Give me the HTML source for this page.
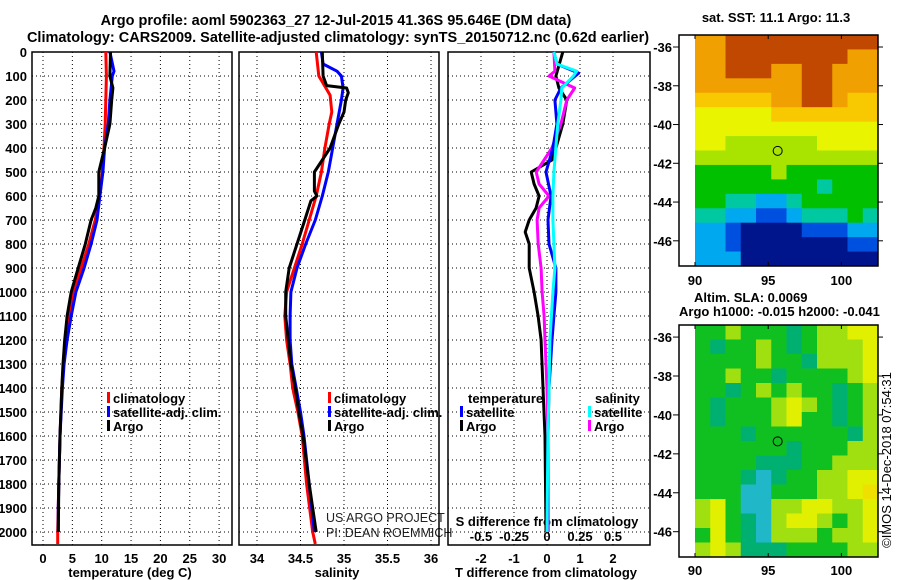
<!DOCTYPE html>
<html><head><meta charset="utf-8"><style>
body{margin:0;background:#fff;width:900px;height:580px;overflow:hidden}
svg{display:block;font-family:"Liberation Sans",sans-serif}
.b{font-weight:bold;font-size:13px}
</style></head><body>
<svg id="c" width="900" height="580" xmlns="http://www.w3.org/2000/svg">
<text x="336" y="25" text-anchor="middle" font-size="14.5" font-weight="bold">Argo profile: aoml 5902363_27 12-Jul-2015 41.36S 95.646E (DM data)</text>
<text x="338" y="42" text-anchor="middle" font-size="14.5" font-weight="bold">Climatology: CARS2009. Satellite-adjusted climatology: synTS_20150712.nc (0.62d earlier)</text>
<text x="776" y="22" text-anchor="middle" font-size="13" font-weight="bold">sat. SST: 11.1 Argo: 11.3</text>
<text x="694" y="302" font-size="13" font-weight="bold">Altim. SLA: 0.0069</text>
<text x="679" y="316" font-size="13" font-weight="bold">Argo h1000: -0.015 h2000: -0.041</text>
<text transform="translate(891,460) rotate(-90)" text-anchor="middle" font-size="13">©IMOS 14-Dec-2018 07:54:31</text>
<text x="326" y="522" font-size="12.5" fill="#222">US ARGO PROJECT</text>
<text x="326" y="537" font-size="12.5" fill="#222">PI: DEAN ROEMMICH</text>
</svg>
<script>
// ---- data ----
const depthTicks=[0,100,200,300,400,500,600,700,800,900,1000,1100,1200,1300,1400,1500,1600,1700,1800,1900,2000];
const tempTicks=[0,5,10,15,20,25,30];
const salTicks=[34,34.5,35,35.5,36];
const tdTicks=[-2,-1,0,1,2];
const sdTicks=[-0.5,-0.25,0,0.25,0.5];
const sdTickLabels=["-0.5","-0.25","0","0.25","0.5"];

const tClimDepth=[0,100,200,300,400,500,600,700,800,900,1000,1100,1200,1300,1400,1600,1800,2000,2050];
const tClim=[10.7,10.8,10.7,10.6,10.4,10.1,9.7,8.9,7.8,6.5,5.1,4.4,3.9,3.5,3.2,2.9,2.7,2.5,2.5];
const tSatDepth=[0,80,100,200,300,400,500,600,700,800,900,1000,1100,1200,1300,1400,1600,1800,1900,2000];
const tSat=[11.4,12.1,11.8,11.4,11.1,10.5,10.2,9.7,9.2,8.2,7.0,5.6,4.8,4.1,3.6,3.3,2.9,2.7,2.6,2.6];
const tArgoDepth=[0,100,150,200,300,400,500,600,650,700,800,900,1000,1100,1200,1300,1400,1600,1800,2000];
const tArgo=[11.5,11.4,11.9,11.7,11.4,10.5,9.5,9.5,9.0,8.2,7.2,6.0,4.8,4.1,3.7,3.4,3.2,2.9,2.7,2.6];

const sClimDepth=[0,100,130,180,250,300,400,500,600,700,800,900,1000,1100,1200,1300,1400,1500,1600,1800,2000,2050];
const sClim=[34.68,34.71,34.76,34.84,34.86,34.83,34.78,34.74,34.68,34.60,34.52,34.43,34.34,34.32,34.34,34.38,34.41,34.47,34.52,34.57,34.64,34.67];
const sSatDepth=[0,50,80,100,150,200,300,400,500,600,700,800,900,1000,1100,1200,1300,1400,1500,1600,1800,2000];
const sSat=[34.74,34.76,34.92,34.97,34.99,34.97,34.92,34.87,34.82,34.75,34.67,34.56,34.46,34.39,34.38,34.38,34.40,34.45,34.50,34.54,34.60,34.66];
const sArgoDepth=[0,100,140,150,170,200,250,300,400,450,500,580,600,620,700,800,900,1000,1100,1200,1300,1400,1500,1600,1800,2000];
const sArgo=[34.75,34.76,34.80,35.03,35.05,35.02,35.00,34.94,34.84,34.75,34.66,34.66,34.69,34.62,34.55,34.46,34.37,34.33,34.33,34.36,34.39,34.44,34.48,34.53,34.60,34.68];

const dTArgoDepth=[0,100,150,200,300,400,450,500,550,600,650,700,750,800,900,1000,1100,1200,1400,1600,2000];
const dTArgo=[0.48,0.27,0.36,0.6,0.48,0.27,0.15,-0.48,-0.39,-0.24,-0.33,-0.54,-0.66,-0.54,-0.54,-0.39,-0.27,-0.18,-0.12,-0.06,-0.03];
const dSArgoDepth=[0,80,100,150,200,300,400,450,500,550,600,650,700,800,900,1000,1100,1200,1400,1600,2000];
const dSArgo=[0.052,0.06,0.015,0.21,0.15,0.105,0.037,-0.022,-0.082,-0.06,0.015,-0.06,-0.075,-0.067,-0.045,-0.037,-0.022,-0.015,0,0.007,0.01];
const dTSatDepth=[0,50,88,150,200,300,400,500,600,700,800,900,1000,1100,1200,1400,1600,2000];
const dTSat=[0.21,0.3,0.96,0.42,0.24,0.3,0.18,-0.03,0.12,0.03,0.06,0.27,0.27,0.21,0.15,0.06,0.03,0];
const dSSatDepth=[0,50,80,100,150,200,300,400,500,600,700,800,900,1000,1200,1400,1600,2000];
const dSSat=[0.052,0.075,0.225,0.2,0.112,0.105,0.082,0.067,0.052,0.045,0.045,0.052,0.06,0.045,0.022,0.015,0.007,0];

const latTicks=[-36,-38,-40,-42,-44,-46];
const lonTicks=[90,95,100];
const sstGrid=["889999999999","889999999988","889998899888","888888899888","777778899877","666667777777","666666666666","665555556666","555555555555","444445444444","444444443444","443322344444","332211233343","221000011122","221000000011","222000000000"];
const slaGrid=["445444345566","434454345556","444454435556","445443444456","443454544345","434445654345","434445644345","444344444435","444444344455","444433344555","444323445566","444224445567","564225566556","564325665456","464325554556","565333444455"];
const sstColors=["#00148c","#0050e0","#00a8f0","#00c8a0","#00c000","#a8e400","#e8f400","#f8c800","#f0a000","#c04800"];
const slaColors=["#0080c0","#10a0d0","#20b8c8","#00b070","#10c020","#a0e010","#e0f000","#f0e000"];

// ---- drawing ----
const svg=document.getElementById('c');
const NS='http://www.w3.org/2000/svg';
function mk(tag,at,parent){const e=document.createElementNS(NS,tag);for(const k in at)e.setAttribute(k,at[k]);(parent||svg).appendChild(e);return e;}
const Y0=52,PY=0.24,YB=545;
const yD=d=>Y0+d*PY;

const panels=[
 {x0:32,x1:232,sx:v=>43+v*5.87,ticks:tempTicks,name:'temperature-panel'},
 {x0:239,x1:439,sx:v=>257+(v-34)*87,ticks:salTicks,name:'salinity-panel'},
 {x0:448,x1:650,sx:v=>547+v*33,ticks:tdTicks,name:'difference-panel'}
];
const sdx=v=>547+v*132;

panels.forEach((p,i)=>{
 const g=mk('g',{});
 
 
 depthTicks.forEach(d=>{const l=mk('line',{x1:p.x0,x2:p.x1,y1:yD(d),y2:yD(d),stroke:'#000','stroke-dasharray':'1,3'},g);
  });
 p.ticks.forEach(t=>{const l=mk('line',{x1:p.sx(t),x2:p.sx(t),y1:Y0,y2:YB,stroke:'#000','stroke-dasharray':'1,3'},g);
  
  const tx=mk('text',{x:p.sx(t),y:563,'text-anchor':'middle',class:'b'},g);tx.textContent=String(t);
  });
 const r=mk('rect',{x:p.x0,y:Y0,width:p.x1-p.x0,height:YB-Y0,fill:'none',stroke:'#000','stroke-width':1.5},g);
 
});
depthTicks.forEach(d=>{const t=mk('text',{x:27,y:yD(d)+5,'text-anchor':'end',class:'b'});t.textContent=d;
 });
[[130,'temperature (deg C)','x-axis-title-temperature'],[337,'salinity','x-axis-title-salinity'],[546,'T difference from climatology','x-axis-title-t-difference']].forEach(a=>{
 const t=mk('text',{x:a[0],y:577,'text-anchor':'middle',class:'b'});t.textContent=a[1];
 });
const st=mk('text',{x:547,y:526,'text-anchor':'middle',class:'b'});st.textContent='S difference from climatology';

sdTicks.forEach((v,i)=>{const t=mk('text',{x:sdx(v),y:541,'text-anchor':'middle',class:'b'});t.textContent=sdTickLabels[i];
 });

function line(depths,vals,sx,color,name){
 const pts=depths.map((d,i)=>sx(vals[i]).toFixed(1)+','+yD(d).toFixed(1)).join(' ');
 const pl=mk('polyline',{points:pts,fill:'none',stroke:color,'stroke-width':3,'stroke-linejoin':'round'});
 
 
}
const P=panels;
line(tClimDepth,tClim,P[0].sx,'#f00','temperature-climatology-line');
line(tSatDepth,tSat,P[0].sx,'#00f','temperature-satellite-line');
line(tArgoDepth,tArgo,P[0].sx,'#000','temperature-argo-line');
line(sClimDepth,sClim,P[1].sx,'#f00','salinity-climatology-line');
line(sSatDepth,sSat,P[1].sx,'#00f','salinity-satellite-line');
line(sArgoDepth,sArgo,P[1].sx,'#000','salinity-argo-line');
line(dTArgoDepth,dTArgo,P[2].sx,'#000','t-difference-argo-line');
line(dSArgoDepth,dSArgo,sdx,'#f0f','s-difference-argo-line');
line(dTSatDepth,dTSat,P[2].sx,'#00f','t-difference-satellite-line');
line(dSSatDepth,dSSat,sdx,'#0ff','s-difference-satellite-line');

function legend(x,y,color,label,name){
 const g=mk('g',{});
 
 
 mk('rect',{x:x,y:y-11,width:3,height:11,fill:color},g);
 const t=mk('text',{x:x+6,y:y,class:'b'},g);t.textContent=label;
}
legend(107,403,'#f00','climatology','legend-temp-climatology');
legend(107,417,'#00f','satellite-adj. clim.','legend-temp-satellite');
legend(107,431,'#000','Argo','legend-temp-argo');
legend(328,403,'#f00','climatology','legend-sal-climatology');
legend(328,417,'#00f','satellite-adj. clim.','legend-sal-satellite');
legend(328,431,'#000','Argo','legend-sal-argo');
const lt=mk('text',{x:468,y:403,class:'b'});lt.textContent='temperature';
const ls=mk('text',{x:595,y:403,class:'b'});ls.textContent='salinity';
legend(460,417,'#00f','satellite','legend-t-diff-satellite');
legend(460,431,'#000','Argo','legend-t-diff-argo');
legend(588,417,'#0ff','satellite','legend-s-diff-satellite');
legend(588,431,'#f0f','Argo','legend-s-diff-argo');

// maps
function map(top,bottom,grid,colors,lonLabelY,name){
 const g=mk('g',{});
 
 
 const latTop=-35.38,latBot=-47.3,lonL=90,lonR=102.5;
 const yL=lat=>top+(latTop-lat)/(latTop-latBot)*(bottom-top);
 const xL=lon=>695+(lon-lonL)/(lonR-lonL)*(878-695);
 const rows=grid.length,cols=grid[0].length;
 for(let r=0;r<rows;r++)for(let c=0;c<cols;c++){
  const la0=latTop+(latBot-latTop)*r/rows,la1=latTop+(latBot-latTop)*(r+1)/rows;
  const lo0=lonL+(lonR-lonL)*c/cols,lo1=lonL+(lonR-lonL)*(c+1)/cols;
  const cell=mk('rect',{x:xL(lo0),y:yL(la0),width:xL(lo1)-xL(lo0)+0.5,height:yL(la1)-yL(la0)+0.5,fill:colors[+grid[r][c]]},g);
  
  
 }
 mk('rect',{x:679,y:top,width:199,height:bottom-top,fill:'none',stroke:'#000','stroke-width':1.5},g);
 latTicks.forEach(l=>{mk('line',{x1:673,x2:679,y1:yL(l),y2:yL(l),stroke:'#000'},g);mk('line',{x1:878,x2:883,y1:yL(l),y2:yL(l),stroke:'#000'},g);
  const t=mk('text',{x:672,y:yL(l)+5,'text-anchor':'end',class:'b'},g);t.textContent=l;
  });
 lonTicks.forEach(l=>{mk('line',{x1:xL(l),x2:xL(l),y1:bottom,y2:bottom-4,stroke:'#000'},g);mk('line',{x1:xL(l),x2:xL(l),y1:top,y2:top+4,stroke:'#000'},g);
  const t=mk('text',{x:xL(l),y:lonLabelY,'text-anchor':'middle',class:'b'},g);t.textContent=l;
  });
 const m=mk('circle',{cx:xL(95.646),cy:yL(-41.36),r:4.5,fill:'none',stroke:'#000'},g);
 
}
map(35,266,sstGrid,sstColors,285,'sst-map');
map(325,557,slaGrid,slaColors,575,'sla-map');
</script>
</body></html>
